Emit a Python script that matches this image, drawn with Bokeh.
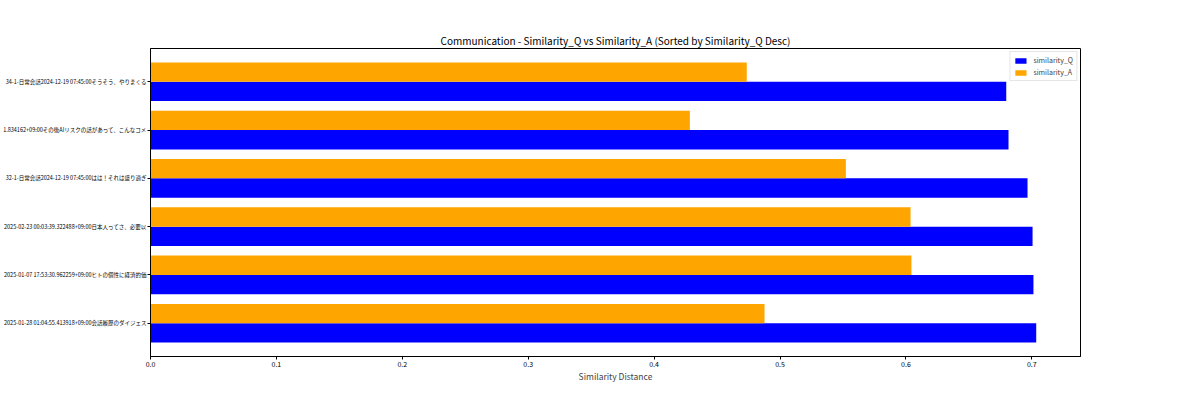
from bokeh.plotting import figure
from bokeh.models import ColumnDataSource, FixedTicker, Legend, LegendItem
from bokeh.embed import file_html
from bokeh.resources import INLINE

# Categories listed bottom (index 0, highest similarity_Q) to top
labels = [
    "2025-01-28 01:04:55.413918+09:00会話履歴のダイジェス",
    "2025-01-07 17:53:30.962259+09:00ヒトの個性に経済的価",
    "2025-02-23 00:03:39.322488+09:00日本人ってさ、必要以",
    "32-1-日常会話2024-12-19 07:45:00はは！それは盛り過ぎ",
    "1.834162+09:00その後AIリスクの話があって、こんなコメ",
    "34-1-日常会話2024-12-19 07:45:00そうそう、やりまくる",
]
similarity_q = [0.7035, 0.7013, 0.7006, 0.6966, 0.6815, 0.6797]
similarity_a = [0.4877, 0.6044, 0.6037, 0.5523, 0.4284, 0.4736]
x_ticks = [0.0, 0.1, 0.2, 0.3, 0.4, 0.5, 0.6, 0.7]

FONT = "Noto Sans CJK JP"
idx = list(range(len(labels)))
bar_h = 0.4
src = ColumnDataSource(dict(
    yq=[i - bar_h / 2 for i in idx],
    ya=[i + bar_h / 2 for i in idx],
    q=similarity_q,
    a=similarity_a,
))

xmax = max(similarity_q) * 1.05
p = figure(
    output_backend="svg", toolbar_location=None,
    frame_width=930, frame_height=308,
    min_border_left=149, min_border_right=105,
    min_border_top=48, min_border_bottom=28,
    x_range=(0, xmax), y_range=(-0.69, len(labels) - 1 + 0.69),
    title="Communication - Similarity_Q vs Similarity_A (Sorted by Similarity_Q Desc)",
)
p.title.align = "center"
p.title.text_font = FONT
p.title.text_font_size = "10px"
p.title.text_font_style = "normal"
p.title.text_color = "black"
p.title.standoff = 2

rq = p.hbar(y="yq", right="q", left=0, height=bar_h, source=src,
            fill_color="blue", line_color=None)
ra = p.hbar(y="ya", right="a", left=0, height=bar_h, source=src,
            fill_color="orange", line_color=None)

p.xgrid.visible = False
p.ygrid.visible = False
p.outline_line_color = "black"
p.outline_line_width = 1

p.xaxis.ticker = FixedTicker(ticks=x_ticks)
p.xaxis.major_label_overrides = {t: f"{t:.1f}" for t in x_ticks}
p.xaxis.axis_label = "Similarity Distance"
p.yaxis.ticker = FixedTicker(ticks=idx)
p.yaxis.major_label_overrides = {i: l for i, l in zip(idx, labels)}

for ax in (p.xaxis, p.yaxis):
    ax.minor_tick_line_color = None
    ax.major_tick_in = 0
    ax.major_tick_out = 3
    ax.axis_line_color = "black"
    ax.major_tick_line_color = "black"
    ax.major_label_text_font = FONT
    ax.major_label_text_color = "black"
p.xaxis.major_label_standoff = 1
p.yaxis.major_label_standoff = 1
p.xaxis.major_label_text_font_size = "7px"
p.yaxis.major_label_text_font_size = "5.5px"
p.xaxis.axis_label_text_font = FONT
p.xaxis.axis_label_text_font_size = "8.5px"
p.xaxis.axis_label_text_font_style = "normal"
p.xaxis.axis_label_standoff = 0

legend = Legend(items=[
    LegendItem(label="similarity_Q", renderers=[rq]),
    LegendItem(label="similarity_A", renderers=[ra]),
], location="top_right")
legend.label_text_font = FONT
legend.label_text_font_size = "7px"
legend.glyph_width = 14
legend.glyph_height = 7
legend.label_height = 7
legend.spacing = 2
legend.padding = 3
legend.margin = 3
legend.border_line_color = "#cccccc"
legend.label_standoff = 6
p.add_layout(legend, "center")

open("out.html", "w").write(file_html(p, INLINE))
